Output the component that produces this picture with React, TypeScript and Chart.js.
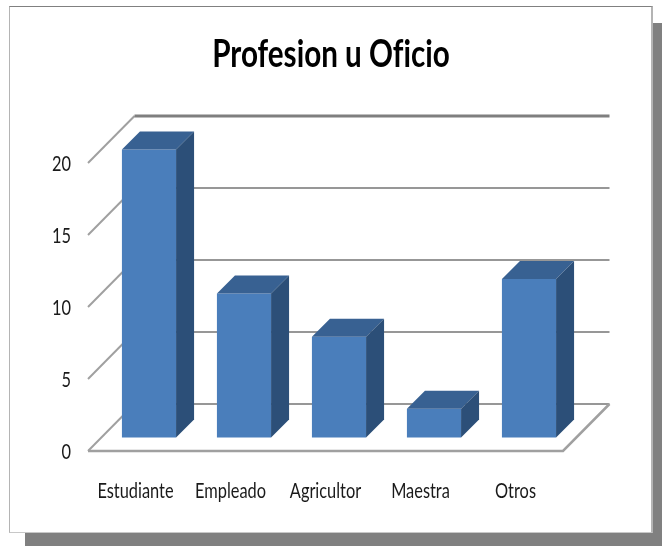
import React, { useEffect, useRef } from "react";
import { Chart, registerables } from "chart.js";

Chart.register(...registerables);

const titleText = "Profesion u Oficio";
const categories = ["Estudiante", "Empleado", "Agricultor", "Maestra", "Otros"];
const seriesValues = [20, 10, 7, 2, 11];
const yTicks = [0, 5, 10, 15, 20];

const WALL_DX = 46.5;
const WALL_DY = -47;
const BAR_SHIFT_X = 13.5;
const BAR_SHIFT_Y = -13.5;
const BAR_DEPTH = 18;
const TEXT_SQUEEZE = 0.78;
const Y_LABEL_NUDGE = 1.5;

const poly = (ctx: CanvasRenderingContext2D, pts: number[][], fill: string) => {
  ctx.beginPath();
  pts.forEach((p, i) => (i ? ctx.lineTo(p[0], p[1]) : ctx.moveTo(p[0], p[1])));
  ctx.closePath();
  ctx.fillStyle = fill;
  ctx.fill();
};

// The reference uses a condensed face: every label the library draws is narrowed in place.
const condensedText = {
  id: "condensedText",
  start(chart: any) {
    const ctx = chart.ctx;
    const original = ctx.fillText.bind(ctx);
    ctx.fillText = (text: string, x: number, y: number) => {
      ctx.save();
      ctx.translate(x, y + (ctx.textAlign === "right" ? Y_LABEL_NUDGE : 0));
      ctx.scale(TEXT_SQUEEZE, 1);
      ctx.textRendering = "optimizeSpeed"; // no "fi" ligature in "Oficio"
      original(text, 0, 0);
      ctx.restore();
    };
  },
};

const threeD = {
  id: "threeD",
  beforeDatasetsDraw(chart: any) {
    const { ctx, chartArea: a, scales } = chart;
    const y = scales.y;
    ctx.save();
    ctx.lineCap = "butt";
    ctx.lineJoin = "miter";
    yTicks.forEach((t) => {
      const py = y.getPixelForValue(t);
      ctx.beginPath();
      ctx.moveTo(a.left, py);
      ctx.lineTo(a.left + WALL_DX, py + WALL_DY);
      ctx.strokeStyle = "#a0a0a0";
      ctx.lineWidth = 2;
      ctx.stroke();
      ctx.beginPath();
      ctx.moveTo(a.left + WALL_DX, py + WALL_DY);
      ctx.lineTo(a.right + WALL_DX, py + WALL_DY);
      ctx.strokeStyle = t === 20 ? "#7f7f7f" : "#979797";
      ctx.lineWidth = t === 20 ? 3 : 2;
      ctx.stroke();
    });
    const p0 = y.getPixelForValue(0);
    ctx.beginPath();
    ctx.moveTo(a.left, p0);
    ctx.lineTo(a.right, p0);
    ctx.lineTo(a.right + WALL_DX, p0 + WALL_DY);
    ctx.strokeStyle = "#a0a0a0";
    ctx.lineWidth = 2.5;
    ctx.stroke();
    ctx.restore();
    ctx.save();
    ctx.translate(BAR_SHIFT_X, BAR_SHIFT_Y);
  },
  afterDatasetsDraw(chart: any) {
    const { ctx } = chart;
    chart.getDatasetMeta(0).data.forEach((b: any) => {
      const l = b.x - b.width / 2;
      const r = b.x + b.width / 2;
      const d = BAR_DEPTH;
      poly(ctx, [[l, b.y], [l + d, b.y - d], [r + d, b.y - d], [r, b.y]], "#386192");
      poly(ctx, [[r, b.y], [r + d, b.y - d], [r + d, b.base - d], [r, b.base]], "#2c4f78");
    });
    ctx.restore();
  },
};

export default function App() {
  const ref = useRef<HTMLCanvasElement>(null);
  useEffect(() => {
    const chart = new Chart(ref.current!, {
      type: "bar",
      data: {
        labels: categories,
        datasets: [
          {
            data: seriesValues,
            backgroundColor: "#4a7ebb",
            borderWidth: 0,
            barPercentage: 0.57,
            categoryPercentage: 1,
            clip: false,
          } as any,
        ],
      },
      plugins: [condensedText, threeD],
      options: {
        responsive: false,
        animation: false,
        layout: { padding: 0 },
        plugins: {
          legend: { display: false },
          tooltip: { enabled: false },
          title: {
            display: true,
            text: titleText,
            color: "#000",
            font: { family: "Lato", size: 38, weight: "bold" },
            padding: { top: 32.4, bottom: 85 },
          },
        },
        scales: {
          x: {
            grid: { display: false },
            border: { display: false },
            afterFit: (s: any) => { s.height = 95; },
            ticks: {
              color: "#1a1a1a",
              padding: 20,
              autoSkip: false,
              minRotation: 0,
              maxRotation: 0,
              font: { family: "Lato", size: 21 },
            },
          },
          y: {
            min: 0,
            max: 20,
            afterFit: (s: any) => { s.width = 88; },
            grid: { display: false },
            border: { display: false },
            ticks: {
              stepSize: 5,
              color: "#1a1a1a",
              padding: 9,
              font: { family: "Lato", size: 21 },
            },
          },
          spacer: {
            position: "right",
            afterFit: (s: any) => { s.width = 99; },
            grid: { display: false },
            border: { display: false },
            ticks: { display: false },
          },
        },
      } as any,
    });
    return () => chart.destroy();
  }, []);

  return (
    <div style={{ position: "fixed", left: 0, top: 0, width: 662, height: 546, background: "#fff", overflow: "hidden" }}>
      <div style={{ position: "absolute", left: 25, top: 23, width: 637, height: 523, background: "#808080" }} />
      <div
        style={{
          position: "absolute",
          left: 9,
          top: 6,
          width: 644,
          height: 527,
          background: "#fff",
          borderLeft: "1px solid #b4b4b4",
          borderBottom: "1px solid #c8c8c8",
          borderRight: "2px solid #b4b4b4",
          borderTop: "1px solid #808080",
          boxSizing: "border-box",
        }}
      />
      <canvas
        ref={ref}
        width={662}
        height={546}
        style={{ position: "absolute", left: 0, top: 0, filter: "blur(0.4px)" }}
      />
    </div>
  );
}
